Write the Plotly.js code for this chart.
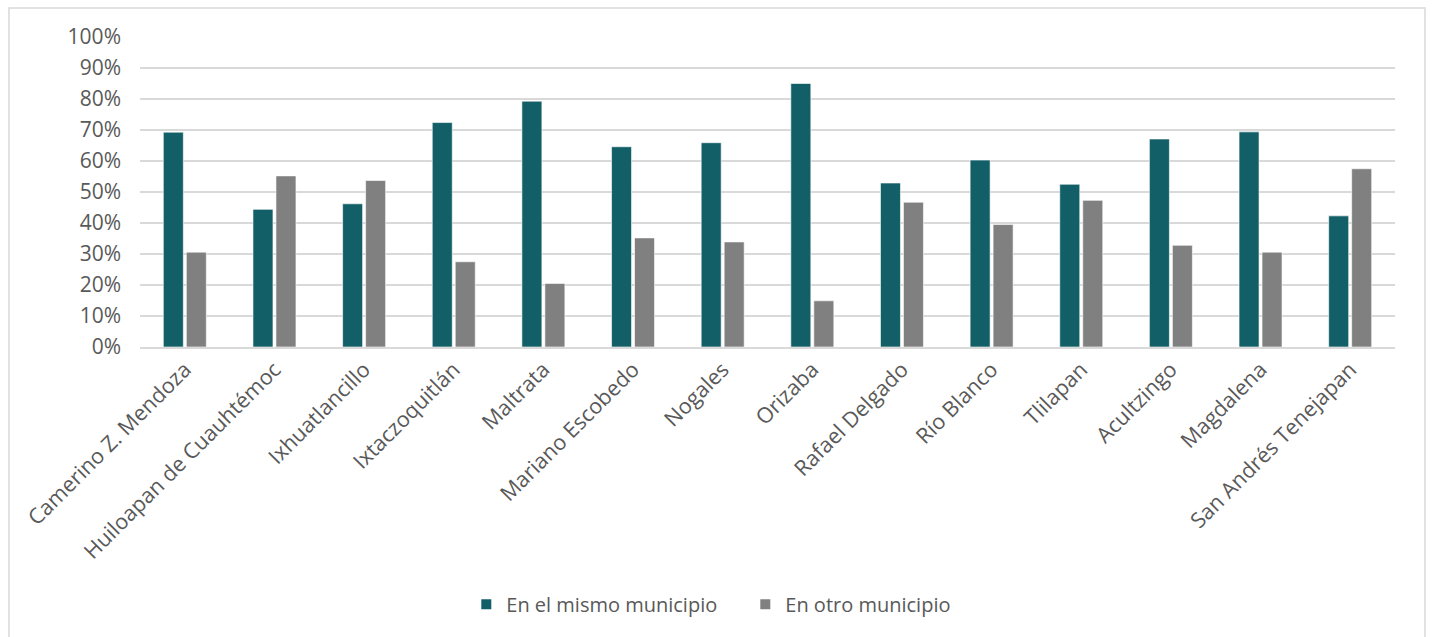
<!DOCTYPE html>
<html>
<head>
<meta charset="utf-8">
<script src="https://cdn.plot.ly/plotly-3.0.1.min.js"></script>
<style>html,body{margin:0;padding:0;background:#fff;}#chart{width:1432px;height:637px;}</style>
</head>
<body>
<div id="chart"></div>
<script>
const municipios = ["Camerino Z. Mendoza","Huiloapan de Cuauhtémoc","Ixhuatlancillo","Ixtaczoquitlán","Maltrata","Mariano Escobedo","Nogales","Orizaba","Rafael Delgado","Río Blanco","Tlilapan","Acultzingo","Magdalena","San Andrés Tenejapan"];
const mismoMunicipio = [69.3,44.4,46.2,72.4,79.3,64.6,65.9,85.0,52.9,60.3,52.5,67.1,69.4,42.3];
const otroMunicipio = [30.6,55.2,53.7,27.5,20.5,35.2,33.9,14.9,46.7,39.5,47.3,32.8,30.6,57.5];
const yTicks = [0,10,20,30,40,50,60,70,80,90,100];
const yTickText = yTicks.map(v => v + "%");

const font = "Open Sans, Liberation Sans, sans-serif";
const traces = [
  {type:"bar", name:"En el mismo municipio", x:municipios, y:mismoMunicipio,
   marker:{color:"#135F67", line:{color:"#ffffff", width:0.6}}},
  {type:"bar", name:"En otro municipio", x:municipios, y:otroMunicipio,
   marker:{color:"#808080", line:{color:"#ffffff", width:0.6}}}
];
const layout = {
  width:1432, height:637,
  margin:{l:140, r:37, t:37, b:290},
  paper_bgcolor:"#ffffff", plot_bgcolor:"#ffffff",
  barmode:"group", bargap:0.487, bargroupgap:0.13,
  font:{family:font, color:"#595959", size:20},
  showlegend:true,
  legend:{orientation:"h", x:0.260, xanchor:"left", y:-0.83, yanchor:"middle",
          entrywidth:234, itemsizing:"constant",
          font:{family:font, size:20, color:"#595959"}, traceorder:"normal"},
  xaxis:{tickangle:-45, showgrid:false, showline:true, linecolor:"#d9d9d9", linewidth:1.5,
         ticks:"", tickfont:{family:font, size:21.5, color:"#595959"}, automargin:false},
  yaxis:{range:[0,100], tickvals:yTicks, ticktext:yTickText, showgrid:true, gridcolor:"#d9d9d9",
         gridwidth:1.3, zeroline:false, showline:false, ticks:"", ticklen:0, ticklabelstandoff:18,
         tickfont:{family:font, size:21, color:"#595959"}, automargin:false},
  shapes:[{type:"rect", xref:"paper", yref:"paper", x0:-0.1044, x1:1.0239, y0:-1.05, y1:1.0935,
           line:{color:"#d9d9d9", width:1.5}, fillcolor:"rgba(0,0,0,0)", layer:"below"}]
};
Plotly.newPlot("chart", traces, layout, {displayModeBar:false, staticPlot:true});
</script>
</body>
</html>
